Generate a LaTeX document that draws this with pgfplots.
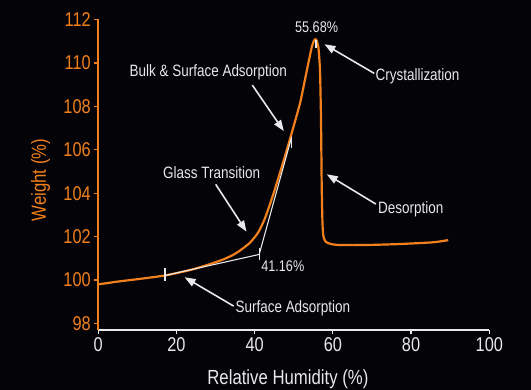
\documentclass[border=0pt]{standalone}
\usepackage{pgfplots}
\pgfplotsset{compat=1.18}
\usepackage{fontspec}
\setmainfont{Liberation Sans}[FakeStretch=0.82]
\usetikzlibrary{arrows.meta}
\definecolor{bgc}{RGB}{4,4,8}
\definecolor{org}{RGB}{242,128,28}
\definecolor{wht}{RGB}{232,232,232}
\begin{document}
\begin{tikzpicture}
\fill[bgc] (0,0) rectangle (531bp,390bp);
\begin{axis}[
  at={(98.2bp,60bp)}, anchor=south west,
  scale only axis, width=391.1bp, height=310.5bp,
  xmin=0, xmax=100, ymin=97.7, ymax=112,
  axis lines=left,
  x axis line style={wht, line width=1.6pt, -},
  y axis line style={org, line width=1.6pt, -},
  xtick={0,20,...,100}, ytick={98,100,...,112},
  tick align=outside, major tick length=4bp,
  xtick style={wht, line width=1.2pt},
  ytick style={org, line width=1.2pt},
  /pgf/number format/assume math mode=true,
  xticklabel style={font=\fontsize{20}{24}\selectfont, text=wht},
  yticklabel style={font=\fontsize{20}{24}\selectfont, text=org},
  xlabel={Relative Humidity (\%)}, ylabel={Weight (\%)},
  xlabel style={font=\fontsize{20.5}{24}\selectfont, text=wht, at={(axis description cs:0.485,-0.159)}, anchor=center},
  ylabel style={font=\fontsize{20.5}{24}\selectfont, text=org, at={(axis description cs:-0.147,0.483)}, anchor=center},
  clip=false,
]
\addplot[org, line width=2.2pt, line join=round, smooth, tension=0.35] coordinates {
 (0,99.80) (5,99.93) (10,100.04) (17.08,100.21) (23.47,100.46) (28,100.70)
 (31.99,100.95) (34.5,101.16) (36.26,101.36) (38.81,101.72) (40.94,102.20)
 (42.65,102.85) (44.77,103.95) (47.33,105.45) (49.04,106.50) (51.60,108.14)
 (53.31,109.62) (54.59,110.72) (55.18,111.03) (55.68,111.09) (56.28,110.75)
 (56.71,109.67) (56.97,107.37) (57.15,104.30) (57.35,102.6) (57.6,102.0)
 (58.2,101.76) (59.3,101.67) (61,101.62) (65,101.61) (70,101.62)
 (77.2,101.66) (85.7,101.74) (89.5,101.84)
};
\addplot[wht, line width=1.1pt] coordinates {(17.08,100.21) (41.16,101.18) (49.48,106.60)};
% small end marks
\draw[wht, line width=1.1pt] (axis cs:17.08,100.54) -- (axis cs:17.08,99.95);
\draw[wht, line width=1.1pt] (axis cs:41.16,101.46) -- (axis cs:41.16,100.92);
\draw[wht, line width=1.1pt] (axis cs:49.40,106.60) -- (axis cs:49.40,106.07);
\draw[wht, line width=1.1pt] (axis cs:55.69,111.06) -- (axis cs:55.69,110.67);
% labels
\tikzset{ann/.style={text=wht, font=\fontsize{16.5}{20}\selectfont, inner sep=0pt},
         arr/.style={wht, line width=1.6pt, -{Triangle[length=11bp,width=8bp]}}}
\node[text=wht, font=\fontsize{15.5}{19}\selectfont, inner sep=0pt] at (axis cs:55.84,111.64) {55.68\%};
\node[text=wht, font=\fontsize{15.5}{19}\selectfont, inner sep=0pt] at (axis cs:47.2,100.66) {41.16\%};
\node[ann] at (axis cs:28.15,109.55) {Bulk \& Surface Adsorption};
\draw[arr] (axis cs:39.40,108.98) -- (axis cs:47.46,106.86);
\node[ann] at (axis cs:29.0,104.94) {Glass Transition};
\draw[arr] (axis cs:30.04,104.41) -- (axis cs:37.92,102.23);
\node[ann] at (axis cs:49.78,98.70) {Surface Adsorption};
\draw[arr] (axis cs:34.64,98.80) -- (axis cs:22.09,100.13);
\node[ann] at (axis cs:81.65,109.37) {Crystallization};
\draw[arr] (axis cs:70.57,109.52) -- (axis cs:57.84,110.86);
\node[ann] at (axis cs:79.93,103.26) {Desorption};
\draw[arr] (axis cs:71.0,103.50) -- (axis cs:58.45,104.87);
\end{axis}
\pgfresetboundingbox
\useasboundingbox (0,0) rectangle (531bp,390bp);
\end{tikzpicture}
\end{document}
